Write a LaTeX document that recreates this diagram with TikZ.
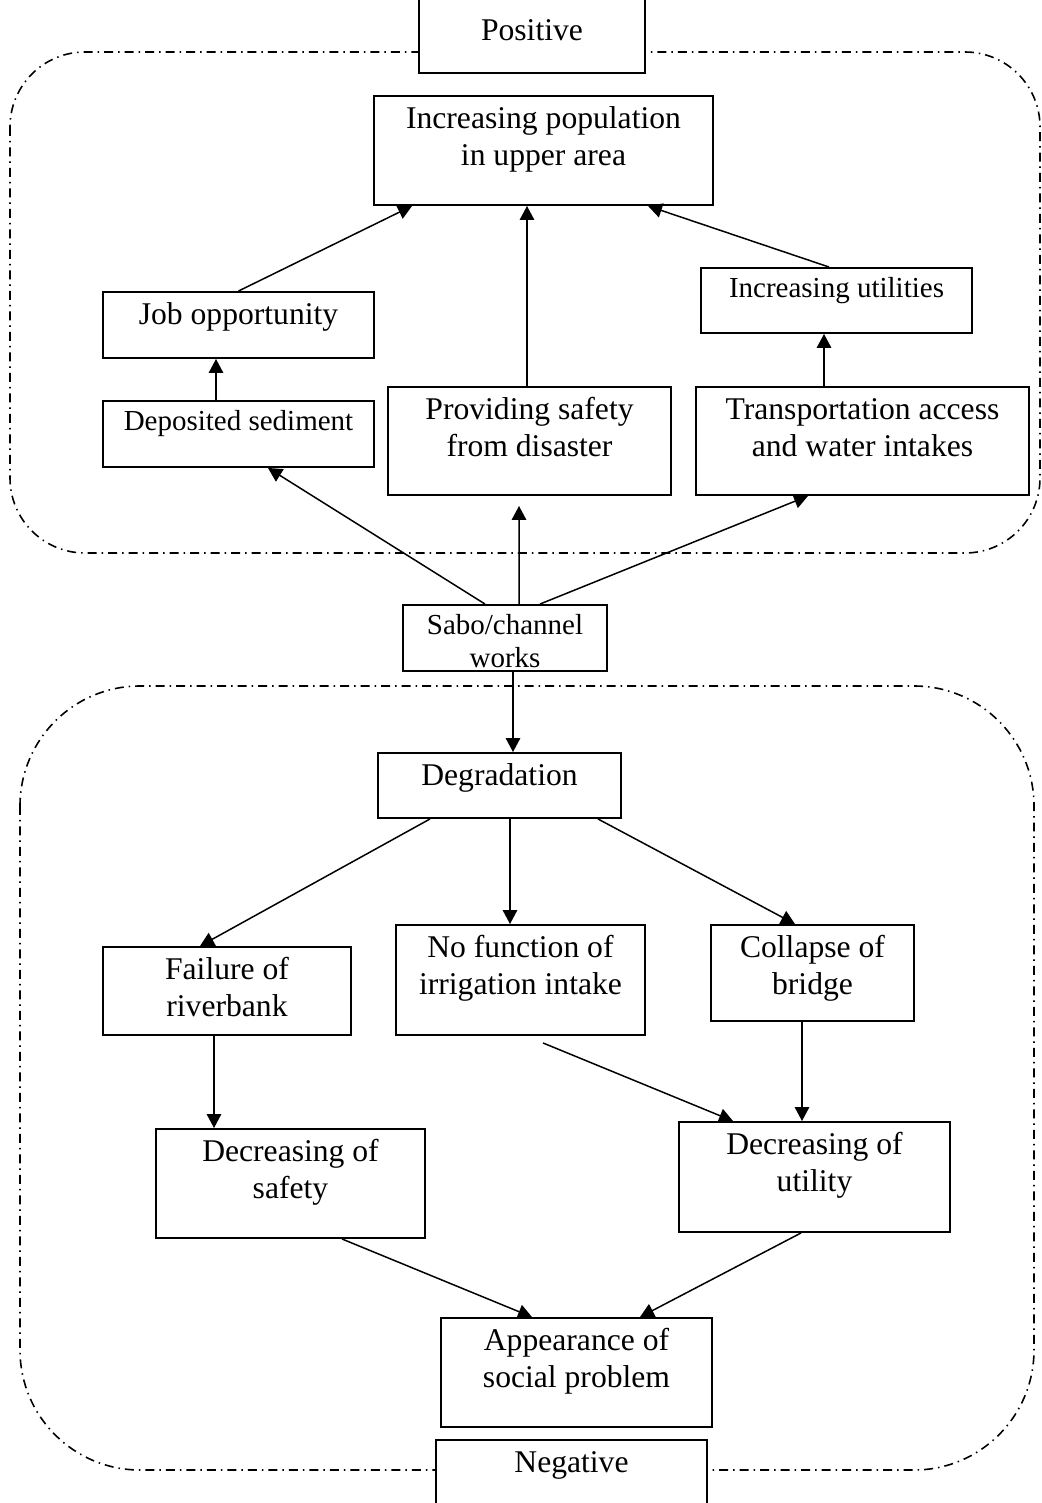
\documentclass[tikz,border=0pt]{standalone}
\usepackage{fontspec}
\setmainfont{Liberation Serif}
\usetikzlibrary{arrows.meta}

\begin{document}
\begin{tikzpicture}[x=0.02cm, y=-0.02cm,
    box/.style={draw, line width=1.1pt, fill=white, inner sep=0pt},
    txt/.style={anchor=north, inner sep=0pt, yshift=-0.14cm, align=center, font=\fontsize{18}{21}\selectfont},
    txtsm/.style={txt, font=\fontsize{16.5}{18.8}\selectfont},
    arr/.style={-{Triangle[length=0.28cm, width=0.29cm]}, line width=0.85pt},
    zone/.style={line width=0.9pt, dash pattern=on 0.18cm off 0.1cm on 0.03cm off 0.1cm}]

    \useasboundingbox (0,0) rectangle (1041,1503);

    % --- zones (positive / negative) ---
    \draw[zone, rounded corners=1.5cm] (10,52) rectangle (1040,553);
    \draw[zone, rounded corners=2.4cm] (20,686) rectangle (1034,1470);

    % --- positive side ---
    \node[box, minimum width=4.52cm, minimum height=1.50cm, label={[txt, yshift=-0.2cm]north:{\strut Positive}}] (pos) at (532,35.5) {};
    \node[box, minimum width=6.78cm, minimum height=2.18cm, label={[txt]north:{\strut Increasing population\\in upper area}}] (incpop) at (543.5,150.5) {};
    \node[box, minimum width=5.42cm, minimum height=1.32cm, label={[txt]north:{\strut Job opportunity}}] (job) at (238.5,325) {};
    \node[box, minimum width=5.42cm, minimum height=1.32cm, label={[txtsm]north:{\strut Deposited sediment}}] (sed) at (238.5,434) {};
    \node[box, minimum width=5.66cm, minimum height=2.16cm, label={[txt]north:{\strut Providing safety\\from disaster}}] (safe) at (529.5,441) {};
    \node[box, minimum width=5.42cm, minimum height=1.30cm, label={[txtsm]north:{\strut Increasing utilities}}] (util) at (836.5,300.5) {};
    \node[box, minimum width=6.66cm, minimum height=2.16cm, label={[txt]north:{\strut Transportation access\\and water intakes}}] (trans) at (862.5,441) {};

    % --- works ---
    \node[box, minimum width=4.08cm, minimum height=1.32cm, label={[txtsm]north:{\strut Sabo/channel\\works}}] (sabo) at (505,638) {};

    % --- negative side ---
    \node[box, minimum width=4.86cm, minimum height=1.30cm, label={[txt]north:{\strut Degradation}}] (degr) at (499.5,785.5) {};
    \node[box, minimum width=4.96cm, minimum height=1.76cm, label={[txt]north:{\strut Failure of\\riverbank}}] (fail) at (227,991) {};
    \node[box, minimum width=4.98cm, minimum height=2.20cm, label={[txt]north:{\strut No function of\\irrigation intake}}] (nofn) at (520.5,980) {};
    \node[box, minimum width=4.06cm, minimum height=1.92cm, label={[txt]north:{\strut Collapse of\\bridge}}] (coll) at (812.5,973) {};
    \node[box, minimum width=5.38cm, minimum height=2.18cm, label={[txt]north:{\strut Decreasing of\\safety}}] (dsaf) at (290.5,1183.5) {};
    \node[box, minimum width=5.42cm, minimum height=2.20cm, label={[txt]north:{\strut Decreasing of\\utility}}] (dutil) at (814.5,1177) {};
    \node[box, minimum width=5.42cm, minimum height=2.18cm, label={[txt]north:{\strut Appearance of\\social problem}}] (appr) at (576.5,1372.5) {};
    \node[box, minimum width=5.42cm, minimum height=1.36cm, label={[txt]north:{\strut Negative}}] (neg) at (571.5,1474) {};

    % --- arrows, upper part ---
    \draw[arr] (job.north) -- ([xshift=-2.63cm]incpop.south);
    \draw[arr] ([xshift=-0.05cm]safe.north) -- ([xshift=-0.05cm]safe.north |- incpop.south);
    \draw[arr] ([xshift=-0.15cm]util.north) -- ([xshift=2.09cm]incpop.south);
    \draw[arr] ([xshift=-0.45cm]sed.north) -- ([xshift=-0.45cm]job.south);
    \draw[arr] ([xshift=-0.77cm]trans.north) -- ([xshift=-0.77cm]trans.north |- util.south);

    % --- arrows out of the works ---
    \draw[arr] ([xshift=-0.4cm]sabo.north) -- ([xshift=0.59cm]sed.south);
    \draw[arr] ([xshift=0.28cm]sabo.north) -- ([xshift=-0.21cm, yshift=-0.2cm]safe.south);
    \draw[arr] ([xshift=0.7cm]sabo.north) -- ([xshift=-1.09cm]trans.south);
    \draw[arr] ([xshift=0.16cm]sabo.south) -- ([xshift=0.16cm]sabo.south |- degr.north);

    % --- arrows, lower part ---
    \draw[arr] ([xshift=-1.39cm]degr.south) -- ([xshift=-0.54cm]fail.north);
    \draw[arr] ([xshift=0.21cm]degr.south) -- ([xshift=0.21cm]degr.south |- nofn.north);
    \draw[arr] ([xshift=1.97cm]degr.south) -- ([xshift=-0.35cm]coll.north);
    \draw[arr] ([xshift=-0.26cm]fail.south) -- ([xshift=-0.26cm]fail.south |- dsaf.north);
    \draw[arr] ([xshift=0.45cm, yshift=-0.14cm]nofn.south) -- ([xshift=-1.63cm]dutil.north);
    \draw[arr] ([xshift=-0.21cm]coll.south) -- ([xshift=-0.21cm]coll.south |- dutil.north);
    \draw[arr] ([xshift=1.03cm]dsaf.south) -- ([xshift=-0.89cm]appr.north);
    \draw[arr] ([xshift=-0.27cm]dutil.south) -- ([xshift=1.27cm]appr.north);

\end{tikzpicture}
\end{document}
